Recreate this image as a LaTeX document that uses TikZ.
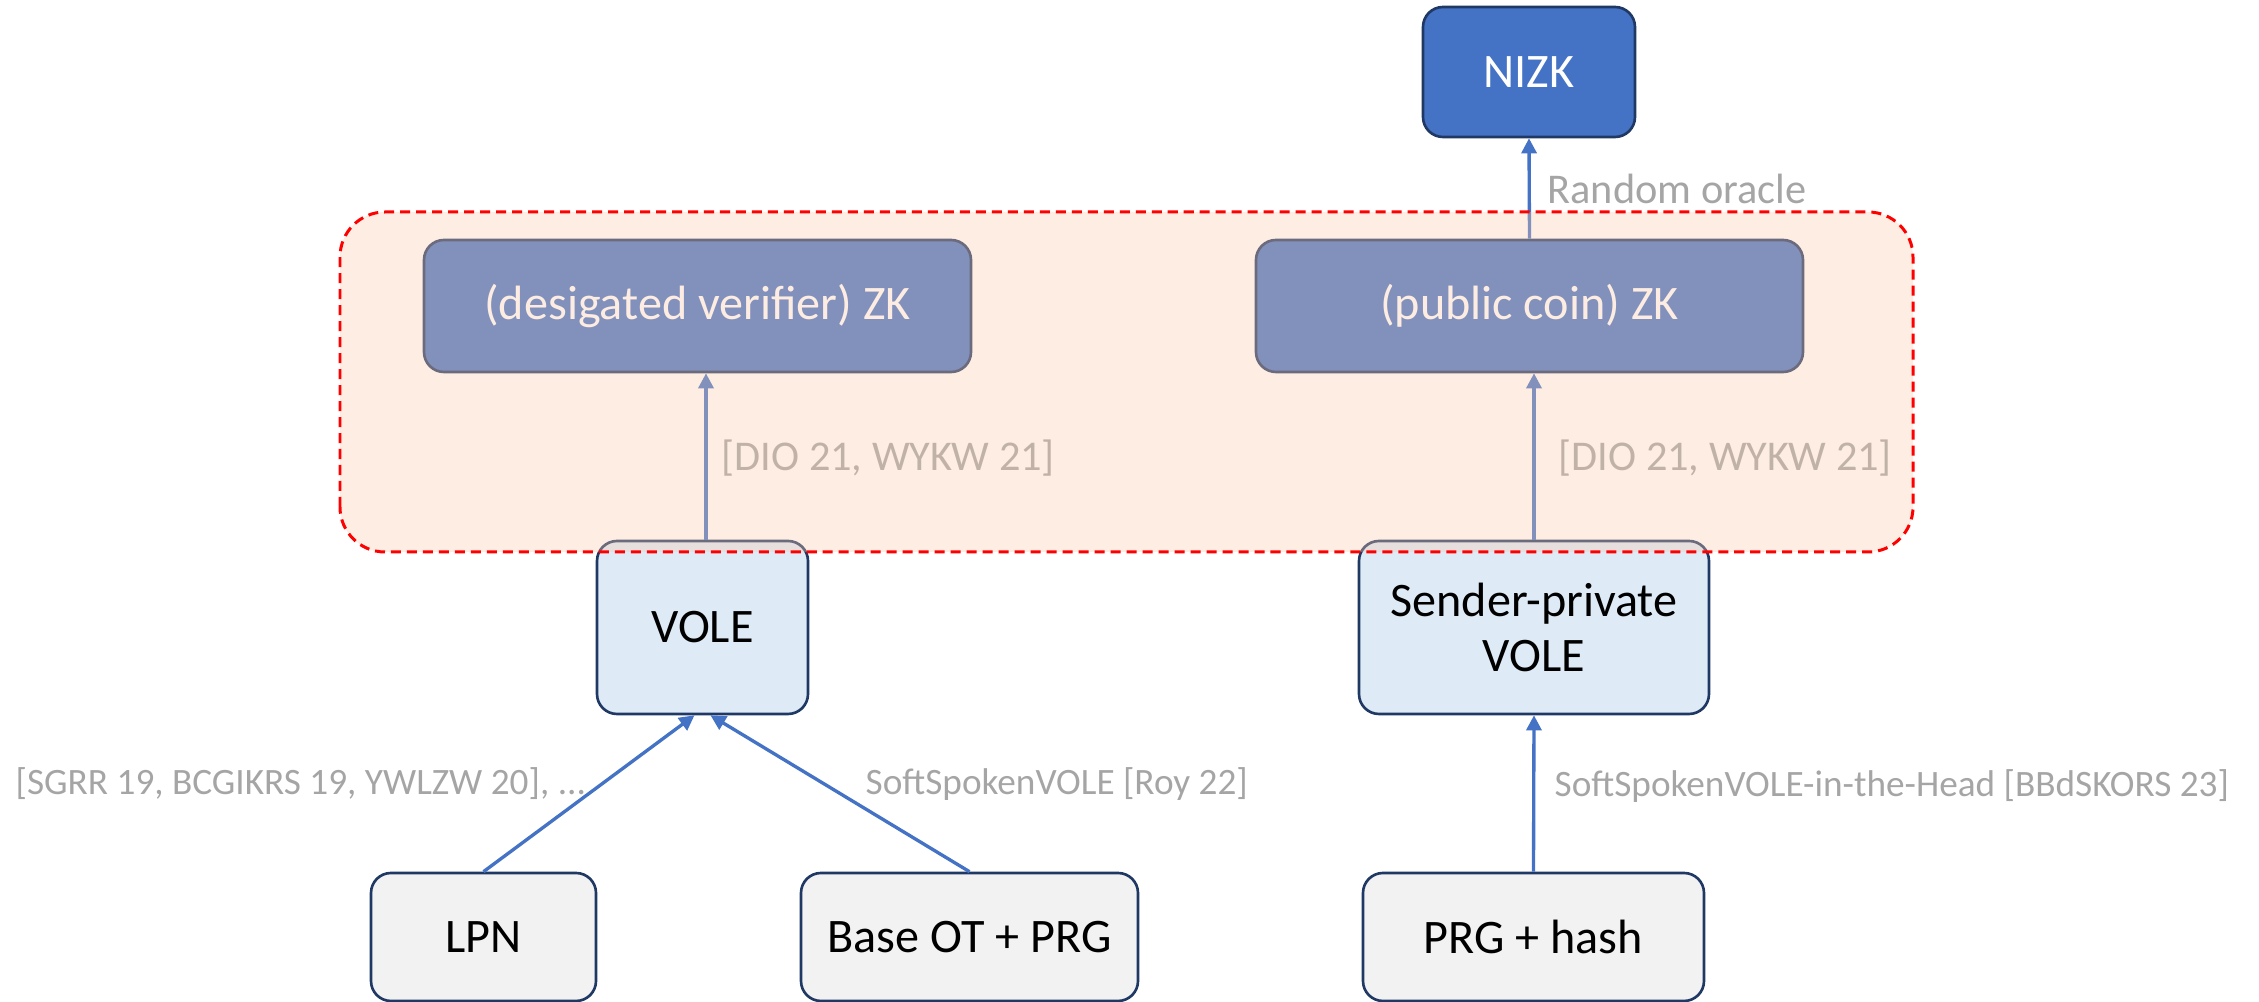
\documentclass[tikz,border=0pt]{standalone}
\usepackage{fontspec}
\setmainfont{Carlito}
\usetikzlibrary{arrows.meta}

\definecolor{navy}{HTML}{203864}
\definecolor{zkblue}{HTML}{4472C4}
\definecolor{volefill}{HTML}{DEEBF7}
\definecolor{basefill}{HTML}{F2F2F2}
\definecolor{refgray}{HTML}{A5A5A5}
\definecolor{zonefill}{HTML}{F8CBAD}

\begin{document}
\begin{tikzpicture}[
  box/.style={draw=navy, line width=0.75pt, rounded corners=0.2cm, inner sep=0pt, align=center,
    font=\fontsize{13.7}{15.6}\selectfont},
  ref/.style={text=refgray, inner sep=0pt, anchor=base west},
  arr/.style={draw=zkblue, line width=0.95pt, -{Triangle[length=4.3pt, width=4.3pt]}},
  zone/.style={draw=red, line width=0.85pt, dash pattern=on 2.85pt off 1.7pt,
    fill=zonefill, fill opacity=0.35, rounded corners=0.45cm}]
\useasboundingbox (0,0) rectangle (22.59,10.02);

\node[box, fill=zkblue, text=white, minimum width=2.12cm, minimum height=1.30cm] (nizk) at (15.29, 9.30) {NIZK};
\node[box, fill=zkblue, text=white, minimum width=5.47cm, minimum height=1.32cm] (zkdv) at (6.975, 6.96) {(desigated verifier) ZK};
\node[box, fill=zkblue, text=white, minimum width=5.47cm, minimum height=1.32cm] (zkpc) at (15.295, 6.96) {(public coin) ZK};
\node[box, fill=volefill, minimum width=2.11cm, minimum height=1.73cm] (vole) at (7.025, 3.745) {VOLE};
\node[box, fill=volefill, minimum width=3.50cm, minimum height=1.73cm] (spvole) at (15.34, 3.745) {Sender-private\\VOLE};
\node[box, fill=basefill, minimum width=2.25cm, minimum height=1.28cm] (lpn) at (4.835, 0.65) {LPN};
\node[box, fill=basefill, minimum width=3.37cm, minimum height=1.28cm] (baseot) at (9.695, 0.65) {Base OT + PRG};
\node[box, fill=basefill, minimum width=3.41cm, minimum height=1.28cm] (prghash) at (15.335, 0.65) {PRG + hash};

\draw[arr] (zkpc.north) -- (nizk.south);
\draw[arr] ([xshift=0.035cm]vole.north) -- ([xshift=0.035cm]vole.north |- zkdv.south);
\draw[arr] (spvole.north) -- (spvole.north |- zkpc.south);
\draw[arr] (lpn.north) -- ([xshift=-0.08cm]vole.south);
\draw[arr] (baseot.north) -- ([xshift=0.08cm]vole.south);
\draw[arr] (prghash.north) -- (spvole.south);

\begin{scope}[font=\fontsize{12.05}{14}\selectfont]
\node[ref] (ro) at (15.47, 7.98) {Random oracle};
\node[ref] (dio1) at (7.21, 5.31) {[DIO 21, WYKW 21]};
\node[ref] (dio2) at (15.58, 5.31) {[DIO 21, WYKW 21]};
\end{scope}
\begin{scope}[font=\fontsize{10.6}{12}\selectfont]
\node[ref] (sgrr) at (0.15, 2.07) {[SGRR 19, BCGIKRS 19, YWLZW 20], ...};
\node[ref] (roy) at (8.65, 2.07) {SoftSpokenVOLE [Roy 22]};
\node[ref] (bbd) at (15.54, 2.05) {SoftSpokenVOLE-in-the-Head [BBdSKORS 23]};
\end{scope}

% highlighted zone over the ZK layer
\draw[zone] (3.40, 4.50) rectangle (19.13, 7.90);
\end{tikzpicture}
\end{document}
